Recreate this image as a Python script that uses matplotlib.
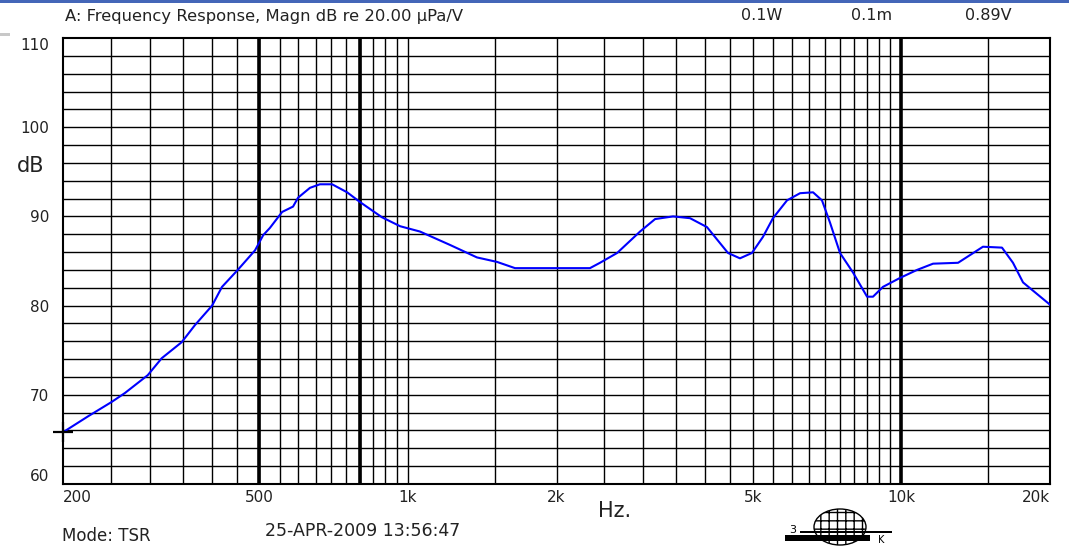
import matplotlib
matplotlib.use('Agg')
import matplotlib.pyplot as plt
from matplotlib.patches import Ellipse, Rectangle
from matplotlib.ticker import NullLocator

# frequency response (Hz, dB)
freq_hz = [200, 225, 251, 267, 297, 317, 348, 370, 401, 420, 452, 490, 509, 525,
           556, 585, 599, 633, 663, 702, 753, 800, 886, 964, 1058, 1217, 1380,
           1515, 1648, 2338, 2450, 2654, 2953, 3168, 3445, 3729, 4036, 4452,
           4707, 4978, 5240, 5491, 5864, 6231, 6621, 6902, 7166, 7508, 7979,
           8518, 8758, 9174, 9932, 10754, 11590, 13024, 14628, 15986, 16828,
           17635, 20000]
level_db = [65.8, 67.6, 69.2, 70.2, 72.2, 74.1, 75.9, 77.8, 80.0, 82.1, 84.0, 86.2,
            87.9, 88.7, 90.5, 91.1, 92.1, 93.2, 93.6, 93.6, 92.7, 91.6, 89.9, 88.9,
            88.3, 86.8, 85.4, 84.9, 84.2, 84.2, 84.8, 85.9, 88.3, 89.7, 90.0, 89.8,
            88.8, 85.9, 85.3, 85.9, 87.7, 89.8, 91.8, 92.6, 92.7, 91.8, 89.3, 85.9,
            83.7, 81.0, 81.0, 82.1, 83.1, 84.0, 84.7, 84.8, 86.6, 86.5, 84.8, 82.6,
            80.1]

grid_hz = (list(range(250, 1000, 50)) + [1000, 1500]
           + list(range(2000, 10000, 500)) + [15000])
heavy_grid_hz = [500, 800, 10000]
grid_db = list(range(62, 110, 2))

x_ticks = [200, 500, 1000, 2000, 5000, 10000, 20000]
x_labels = ['200', '500', '1k', '2k', '5k', '10k', '20k']
y_ticks = [60, 70, 80, 90, 100, 110]

W, H = 1069, 549
fig = plt.figure(figsize=(W / 100, H / 100), dpi=100)
fig.patch.set_facecolor('white')

# plot box in pixels: left 63, right 1050, top 38, bottom 484
ax = fig.add_axes([63 / W, 1 - 484 / H, 987 / W, 446 / H])
ax.set_xscale('log')
ax.set_xlim(200, 20000)
ax.set_ylim(60, 110)

for f in grid_hz:
    ax.axvline(f, color='black', lw=1.0, zorder=1)
for f in heavy_grid_hz:
    ax.axvline(f, color='black', lw=2.6, zorder=1)
for d in grid_db:
    ax.axhline(d, color='black', lw=1.0, zorder=1)

ax.plot(freq_hz, level_db, color='#0000ff', lw=1.5, zorder=3)
# cursor mark at the first point
ax.plot(freq_hz[0], level_db[0], marker='+', ms=15, mew=1.6, color='black',
        clip_on=False, zorder=4)

for s in ax.spines.values():
    s.set_linewidth(1.5)
    s.set_color('black')

ax.xaxis.set_minor_locator(NullLocator())
ax.set_xticks(x_ticks)
ax.set_xticklabels(x_labels, fontsize=11, color='#222222')
ax.set_yticks(y_ticks)
ax.set_yticklabels([str(v) for v in y_ticks], fontsize=11, color='#222222')
ax.tick_params(axis='both', length=0)
ax.tick_params(axis='x', pad=4)
ax.tick_params(axis='y', pad=10)

xl = ax.get_xticklabels()
xl[0].set_ha('left')
xl[-1].set_ha('right')
yl = ax.get_yticklabels()
yl[0].set_va('bottom')
yl[-1].set_va('top')

# header
fig.text(65 / W, 1 - 16 / H, 'A: Frequency Response, Magn dB re 20.00 µPa/V',
         fontsize=11.8, va='center', ha='left', color='#222222')
fig.text(762 / W, 1 - 16 / H, '0.1W', fontsize=11.5, va='center', ha='center', color='#222222')
fig.text(872 / W, 1 - 16 / H, '0.1m', fontsize=11.5, va='center', ha='center', color='#222222')
fig.text(988 / W, 1 - 16 / H, '0.89V', fontsize=11.5, va='center', ha='center', color='#222222')

fig.text(31 / W, 1 - 166 / H, 'dB', fontsize=15, va='center', ha='center', color='#222222')
fig.text(615 / W, 1 - 511 / H, 'Hz.', fontsize=15, va='center', ha='center', color='#222222')
fig.text(62 / W, 1 - 536 / H, 'Mode: TSR', fontsize=12, va='center', ha='left', color='#222222')
fig.text(265 / W, 1 - 531 / H, '25-APR-2009 13:56:47', fontsize=12.5, va='center', ha='left',
         color='#222222')

# blue strip on top and small grey mark at left
fig.add_artist(Rectangle((0, 1 - 3 / H), 1, 3 / H, transform=fig.transFigure,
                         color='#4466b8', lw=0))
fig.add_artist(Rectangle((0, 1 - 36 / H), 10 / W, 3 / H, transform=fig.transFigure,
                         color='#c8c8c8', lw=0))

# logo sketch at the bottom
fig.add_artist(Ellipse((840 / W, 1 - 527 / H), 52 / W, 36 / H, transform=fig.transFigure,
                       facecolor='white', edgecolor='black', hatch='++', lw=1.0))
fig.add_artist(Rectangle((785 / W, 1 - 541 / H), 85 / W, 6 / H, transform=fig.transFigure,
                         color='black', lw=0))
fig.add_artist(Rectangle((800 / W, 1 - 533 / H), 92 / W, 2 / H, transform=fig.transFigure,
                         color='black', lw=0))
fig.text(793 / W, 1 - 530 / H, '3', fontsize=8, va='center', ha='center')
fig.text(881 / W, 1 - 540 / H, 'K', fontsize=7, va='center', ha='center')

fig.savefig('out.png', dpi=100)
